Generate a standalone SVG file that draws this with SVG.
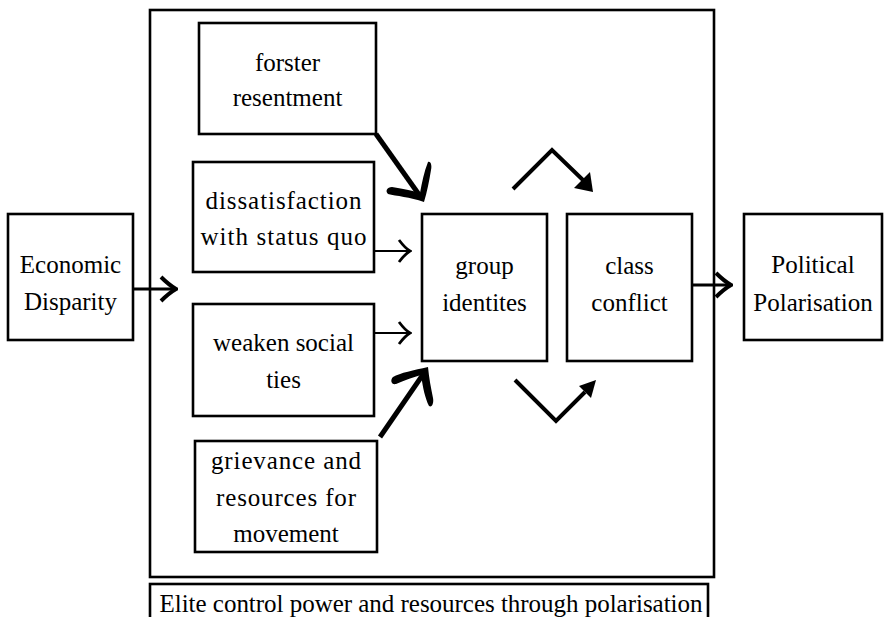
<svg xmlns="http://www.w3.org/2000/svg" width="884" height="617" viewBox="0 0 884 617">
<style>
.box{fill:#fff;stroke:#000;stroke-width:2.6}
.frame{fill:none;stroke:#000;stroke-width:2.6}
text{font-family:"Liberation Serif","Times New Roman",serif;font-size:25px;fill:#000;text-anchor:middle}
.ln{fill:none;stroke:#000;stroke-linecap:butt}
.head{fill:#000;stroke:none}
</style>
<defs>
<marker id="chevBig" viewBox="-18 -15 20 30" refX="0" refY="0" markerWidth="20" markerHeight="30" markerUnits="userSpaceOnUse" orient="auto">
<path d="M-15,-12 Q-7,-4 0,0 Q-7,4 -15,12" fill="none" stroke="#000" stroke-width="4"/>
</marker>
<marker id="chevSmall" viewBox="-14 -13 16 26" refX="0" refY="0" markerWidth="16" markerHeight="26" markerUnits="userSpaceOnUse" orient="auto">
<path d="M-11,-11 Q-5,-3 0,0 Q-5,3 -11,11" fill="none" stroke="#000" stroke-width="2.8"/>
</marker>
</defs>

<rect class="frame" x="150" y="10" width="564" height="567"/>

<g id="economic-disparity">
<rect class="box" x="8" y="214" width="125" height="126"/>
<text x="70.5" y="273">Economic</text>
<text x="70.5" y="310">Disparity</text>
</g>

<g id="forster-resentment">
<rect class="box" x="199" y="23" width="177" height="111"/>
<text x="287.5" y="71">forster</text>
<text x="287.5" y="106">resentment</text>
</g>

<g id="dissatisfaction">
<rect class="box" x="193" y="162" width="181" height="110"/>
<text x="283.5" y="209" textLength="156" lengthAdjust="spacing">dissatisfaction</text>
<text x="283.5" y="245" textLength="166" lengthAdjust="spacing">with status quo</text>
</g>

<g id="weaken-social-ties">
<rect class="box" x="193" y="304" width="181" height="112"/>
<text x="283.5" y="351">weaken social</text>
<text x="283.5" y="388">ties</text>
</g>

<g id="grievance">
<rect class="box" x="195" y="441" width="182" height="111"/>
<text x="286" y="469" textLength="150" lengthAdjust="spacing">grievance and</text>
<text x="286" y="506" textLength="140" lengthAdjust="spacing">resources for</text>
<text x="286" y="542">movement</text>
</g>

<g id="group-identites">
<rect class="box" x="422" y="214" width="125" height="147"/>
<text x="484.5" y="274">group</text>
<text x="484.5" y="311">identites</text>
</g>

<g id="class-conflict">
<rect class="box" x="567" y="214" width="125" height="147"/>
<text x="629.5" y="274">class</text>
<text x="629.5" y="311">conflict</text>
</g>

<g id="political-polarisation">
<rect class="box" x="744" y="214" width="138" height="126"/>
<text x="813" y="273">Political</text>
<text x="813" y="311">Polarisation</text>
</g>

<g id="elite-control">
<rect class="box" x="150" y="584" width="558" height="40"/>
<text x="431" y="612" textLength="543" lengthAdjust="spacing">Elite control power and resources through polarisation</text>
</g>

<g id="connectors">
<line class="ln" x1="133" y1="289" x2="176" y2="289" stroke-width="3" marker-end="url(#chevBig)"/>
<line class="ln" x1="692" y1="285" x2="731" y2="285" stroke-width="3" marker-end="url(#chevBig)"/>
<line class="ln" x1="374" y1="251" x2="410" y2="251" stroke-width="2" marker-end="url(#chevSmall)"/>
<line class="ln" x1="374" y1="333" x2="410" y2="333" stroke-width="2" marker-end="url(#chevSmall)"/>

<line class="ln" x1="376" y1="134" x2="420" y2="196" stroke-width="5"/>
<path class="head" d="M424,202 C410,197 396,196 388,194 C385,191 387,187 392,187 C404,189 414,191 420,193 C422,182 424,172 428,162 C431,161 432,166 431,170 C429,182 427,192 424,202 Z"/>

<line class="ln" x1="380" y1="437" x2="424" y2="373" stroke-width="5"/>
<path class="head" d="M428,367 C414,370 400,373 393,377 C390,380 391,385 396,384 C405,380 414,377 421,375 C423,388 425,398 429,406 C432,408 434,403 433,398 C431,388 429,378 428,367 Z"/>

<polyline class="ln" points="513,189 552,150 584,181" stroke-width="4"/>
<path class="head" d="M593,192 L574,188 L590,172 Z"/>

<polyline class="ln" points="515,380 556,421 585,392" stroke-width="4"/>
<path class="head" d="M596,380 L579,386 L591,398 Z"/>
</g>
</svg>
